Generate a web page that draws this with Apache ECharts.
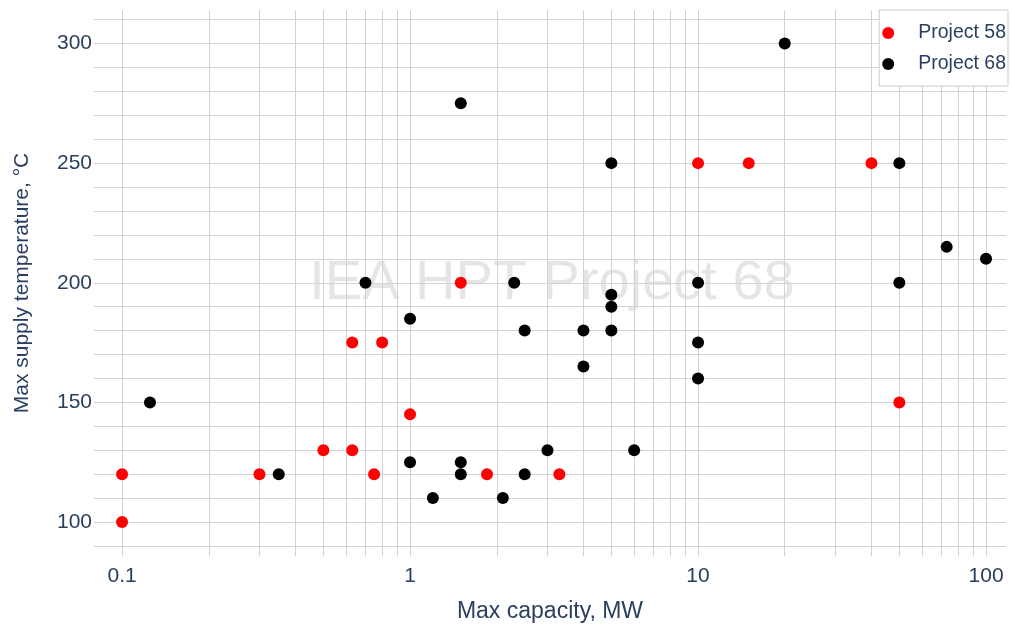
<!DOCTYPE html>
<html><head><meta charset="utf-8">
<script src="https://cdn.jsdelivr.net/npm/echarts@6/dist/echarts.min.js"></script>
<style>html,body{margin:0;padding:0;background:#fff}#c{width:1010px;height:628px}</style>
</head><body><div id="c"></div>
<script>
// Project 58 (red)
const p58X = [0.1, 0.1, 0.3, 0.5, 0.63, 0.63, 0.8, 0.75, 1, 1.5, 1.85, 3.3, 10, 15, 40, 50];
const p58Y = [100, 120, 120, 130, 130, 175, 175, 120, 145, 200, 120, 120, 250, 250, 250, 150];
// Project 68 (black)
const p68X = [0.125, 0.35, 0.7, 1, 1, 1.2, 1.5, 1.5, 1.5, 2.1, 2.3, 2.5, 2.5, 3, 4, 4, 5, 5, 5, 5, 6, 10, 10, 10, 20, 50, 50, 73, 100];
const p68Y = [150, 120, 200, 185, 125, 110, 275, 125, 120, 110, 200, 180, 120, 130, 180, 165, 250, 195, 190, 180, 130, 200, 175, 160, 300, 250, 200, 215, 210];
// axis ticks and gridlines
const xTickLabels = [0.1, 1, 10, 100];
const yTickLabels = [100, 150, 200, 250, 300];
const xGridValues = [0.1,0.2,0.3,0.4,0.5,0.6,0.7,0.8,0.9,1,2,3,4,5,6,7,8,9,10,20,30,40,50,60,70,80,90,100];
const yGridValues = [90,100,110,120,130,140,150,160,170,180,190,200,210,220,230,240,250,260,270,280,290,300,310];
const xRange = [0.0799, 117.3];
const yRange = [85.8, 314];

const textColor = '#2a3f5f';
const gridColor = '#d3d3d3';
const FONT = 'Liberation Sans, Arial, sans-serif';

const chart = echarts.init(document.getElementById('c'), null, {renderer: 'canvas'});
const zip = (xs, ys) => xs.map((x, i) => [x, ys[i]]);

chart.setOption({
  animation: false,
  backgroundColor: '#fff',
  textStyle: {fontFamily: FONT},
  grid: {left: 94, right: 4, top: 10, bottom: 70, containLabel: false},
  xAxis: {
    type: 'log', logBase: 10, min: xRange[0], max: xRange[1],
    name: 'Max capacity, MW', nameLocation: 'middle', nameGap: 44,
    nameTextStyle: {color: textColor, fontSize: 23, fontFamily: FONT},
    axisLine: {show: false}, axisTick: {show: false}, splitLine: {show: false},
    axisLabel: {customValues: xTickLabels, color: textColor, fontSize: 21, fontFamily: FONT, margin: 10,
      formatter: v => String(v)}
  },
  yAxis: {
    type: 'value', min: yRange[0], max: yRange[1],
    name: 'Max supply temperature, °C', nameLocation: 'middle', nameGap: 61, nameRotate: 90,
    nameTextStyle: {color: textColor, fontSize: 21, fontFamily: FONT},
    axisLine: {show: false}, axisTick: {show: false}, splitLine: {show: false},
    axisLabel: {customValues: yTickLabels, color: textColor, fontSize: 21, fontFamily: FONT, margin: 2,
      formatter: v => String(v)}
  },
  legend: {
    data: ['Project 58', 'Project 68'],
    orient: 'vertical', right: 2, top: 10, z: 10,
    backgroundColor: '#fff', borderColor: '#cccccc', borderWidth: 1,
    padding: [12, 2, 11, 3], itemGap: 9,
    itemWidth: 50, itemHeight: 12, icon: 'circle',
    textStyle: {color: textColor, fontSize: 19.5, fontFamily: FONT, lineHeight: 22}
  },
  graphic: [{
    type: 'text', x: 552, y: 284, z: 0, silent: true,
    style: {text: 'IEA HPT Project 68', fill: 'rgba(0,0,0,0.1)', font: '56px ' + FONT,
      textAlign: 'center', textVerticalAlign: 'middle'}
  }],
  series: [
    {
      type: 'scatter', name: 'grid', data: [], z: 1, silent: true,
      markLine: {
        z: 1, silent: true, symbol: ['none', 'none'], animation: false,
        label: {show: false},
        lineStyle: {color: gridColor, type: 'solid', width: 1},
        emphasis: {disabled: true},
        data: xGridValues.map(v => ({xAxis: v})).concat(yGridValues.map(v => ({yAxis: v})))
      }
    },
    {type: 'scatter', name: 'Project 58', data: zip(p58X, p58Y), symbolSize: 12, z: 3,
      itemStyle: {color: '#ff0000', opacity: 1}},
    {type: 'scatter', name: 'Project 68', data: zip(p68X, p68Y), symbolSize: 12, z: 3,
      itemStyle: {color: '#000000', opacity: 1}}
  ]
});
</script></body></html>
